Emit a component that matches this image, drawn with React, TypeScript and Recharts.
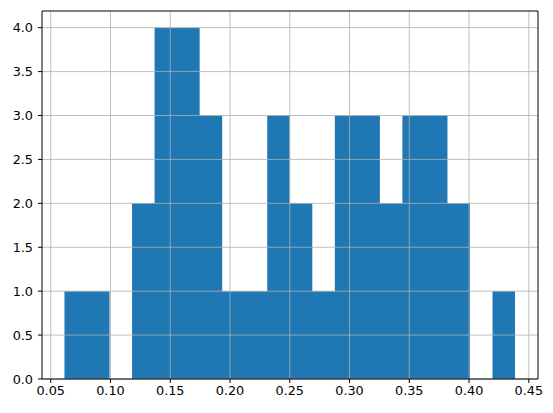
import { ComposedChart, Area, XAxis, YAxis, ReferenceLine } from 'recharts';

// histogram bin edges (21 edges -> 20 bins)
const binStart = 0.0615;
const binWidth = 0.01885;
const counts = [1, 1, 0, 2, 4, 4, 3, 1, 1, 3, 2, 1, 3, 3, 2, 3, 3, 2, 0, 1];

const xTicks = [0.05, 0.1, 0.15, 0.2, 0.25, 0.3, 0.35, 0.4, 0.45];
const yTicks = [0, 0.5, 1, 1.5, 2, 2.5, 3, 3.5, 4];

const xDomain: [number, number] = [0.0427, 0.4577];
const yDomain: [number, number] = [0, 4.19];

const edges = Array.from({ length: counts.length + 1 }, (_, i) => binStart + i * binWidth);
const stepData = edges.map((x, i) => ({
    x,
    count: i < counts.length ? counts[i] : counts[counts.length - 1],
}));

const tickStyle = { fontSize: 12.8, fill: '#000', fontFamily: 'DejaVu Sans' };

export default function App() {
    return (
        <div style={{ position: 'absolute', left: 0, top: 0, background: '#fff' }}>
            <ComposedChart
                width={553}
                height={413}
                data={stepData}
                margin={{ top: 11, right: 15, bottom: 0, left: 0 }}
            >
                <XAxis
                    dataKey="x"
                    type="number"
                    domain={xDomain}
                    ticks={xTicks}
                    tickFormatter={(v: number) => v.toFixed(2)}
                    tick={tickStyle}
                    tickSize={4}
                    tickMargin={3}
                    axisLine={{ stroke: '#000' }}
                    tickLine={{ stroke: '#000' }}
                    height={34}
                    allowDataOverflow
                />
                <YAxis
                    type="number"
                    domain={yDomain}
                    ticks={yTicks}
                    tickFormatter={(v: number) => v.toFixed(1)}
                    tick={tickStyle}
                    tickSize={4}
                    tickMargin={5}
                    axisLine={{ stroke: '#000' }}
                    tickLine={{ stroke: '#000' }}
                    width={42}
                    allowDataOverflow
                />
                <Area
                    type="stepAfter"
                    dataKey="count"
                    fill="#1f77b4"
                    fillOpacity={1}
                    stroke="none"
                    baseValue={0}
                    isAnimationActive={false}
                    dot={false}
                    activeDot={false}
                />
                {xTicks.map(t => (
                    <ReferenceLine key={'x' + t} x={t} stroke="#b0b0b0" strokeWidth={0.8} />
                ))}
                {yTicks.map(t => (
                    <ReferenceLine key={'y' + t} y={t} stroke="#b0b0b0" strokeWidth={0.8} />
                ))}
                {/* top and right spines */}
                <ReferenceLine x={xDomain[1]} stroke="#000" strokeWidth={1} />
                <ReferenceLine y={yDomain[1]} stroke="#000" strokeWidth={1} />
            </ComposedChart>
        </div>
    );
}
